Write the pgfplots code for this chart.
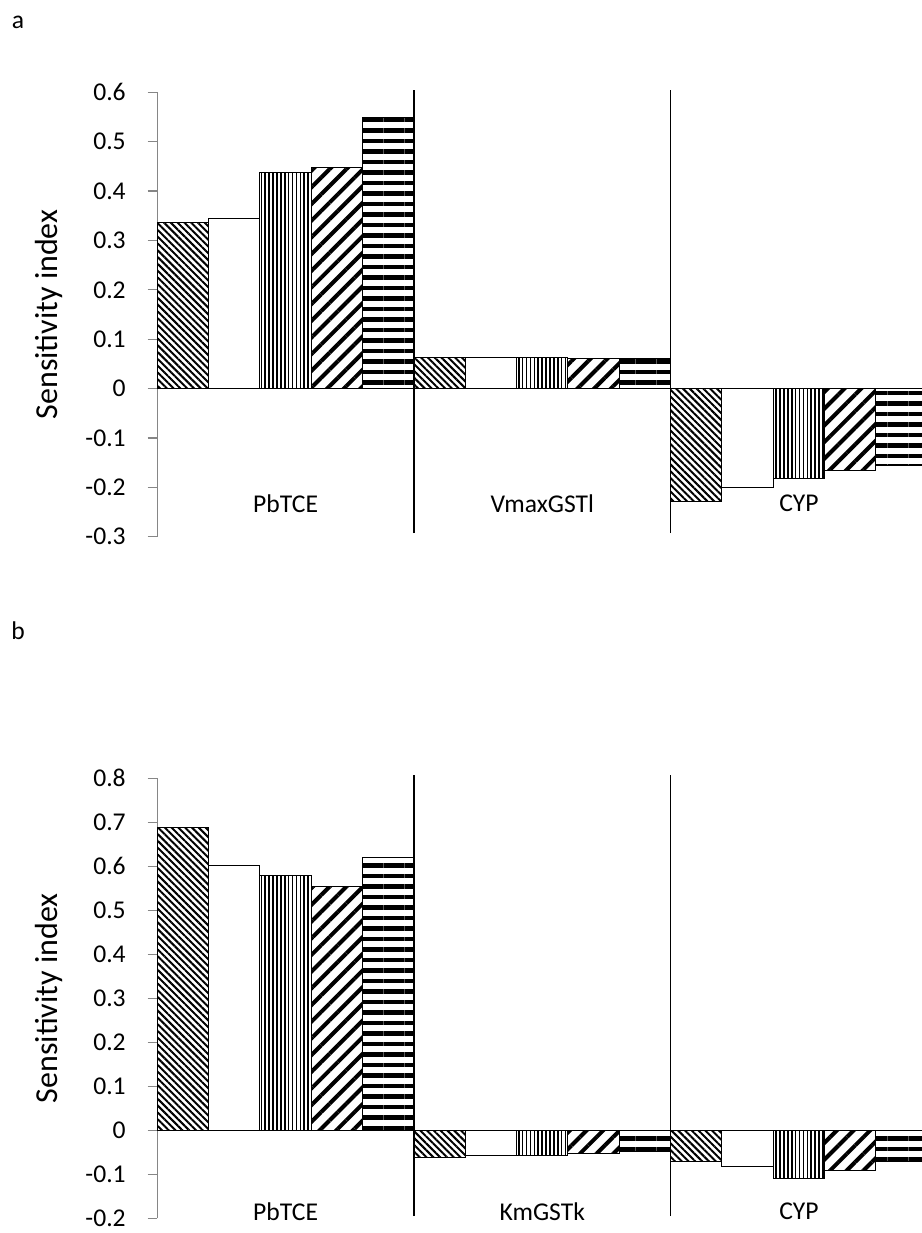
\documentclass[border=0pt]{standalone}
\usepackage{pgfplots}
\pgfplotsset{compat=1.18}
\usepackage{fontspec}
\setmainfont{Carlito}
\usetikzlibrary{patterns.meta}
\definecolor{axgray}{RGB}{134,134,134}
\tikzset{
  pA/.style={pattern={Lines[angle=-45,distance=2.4pt,line width=1pt]},pattern color=black},
  pB/.style={fill=white},
  pC/.style={pattern={Lines[angle=90,distance=1.95pt,line width=0.8pt]},pattern color=black},
  pD/.style={pattern={Lines[angle=45,distance=5.9pt,line width=2pt]},pattern color=black},
  pE/.style={pattern={Lines[angle=0,distance=5.25pt,line width=2.2pt]},pattern color=black},
}
\pgfplotsset{
  myaxis/.style={
    scale only axis,
    width=385pt,
    xmin=0, xmax=15,
    axis x line=middle,
    axis y line=left,
    axis line style={-, draw=axgray, line width=0.6pt},
    xtick=\empty,
    tick align=outside,
    major tick length=4.8pt,
    ytick style={draw=axgray, line width=0.6pt},
    yticklabel style={font=\fontsize{12.8}{15}\selectfont, anchor=east, inner sep=0pt, xshift=-10.8pt},
    ylabel={Sensitivity index},
    every axis y label/.style={at={(axis description cs:0,0.5)}, xshift=-54pt, rotate=90, anchor=center,
      font=\fontsize{16}{19}\selectfont},
    clip=false,
    every axis plot/.append style={ybar, bar width=1, bar shift=0pt, draw=black, line width=0.5pt},
  }
}
\begin{document}
\begin{tikzpicture}
% ---------------- panel a ----------------
\begin{axis}[myaxis,
  at={(78.65pt,348.15pt)}, anchor=south west,
  height=222.2pt,
  ymin=-0.3, ymax=0.6,
  ytick={-0.3,-0.2,-0.1,0,0.1,0.2,0.3,0.4,0.5,0.6},
  yticklabels={-0.3,-0.2,-0.1,0,0.1,0.2,0.3,0.4,0.5,0.6},
]
\addplot[pA] coordinates {(0.5,0.337) (5.5,0.062) (10.5,-0.229)};
\addplot[pB] coordinates {(1.5,0.344) (6.5,0.062) (11.5,-0.200)};
\addplot[pC] coordinates {(2.5,0.4375) (7.5,0.062) (12.5,-0.183)};
\addplot[pD] coordinates {(3.5,0.448) (8.5,0.061) (13.5,-0.165)};
\addplot[pE] coordinates {(4.5,0.548) (9.5,0.061) (14.5,-0.156)};
\draw[black, line width=0.75pt] (axis cs:5,-0.293) -- (axis cs:5,0.605);
\draw[black, line width=0.75pt] (axis cs:10,-0.293) -- (axis cs:10,0.605);
\node[font=\fontsize{12.8}{15}\selectfont] at (axis cs:2.5,-0.233) {PbTCE};
\node[font=\fontsize{12.8}{15}\selectfont] at (axis cs:7.5,-0.233) {VmaxGSTl};
\node[font=\fontsize{12.8}{15}\selectfont] at (axis cs:12.5,-0.233) {CYP};
\end{axis}
% ---------------- panel b ----------------
\begin{axis}[myaxis,
  at={(78.65pt,7.35pt)}, anchor=south west,
  height=220pt,
  ymin=-0.2, ymax=0.8,
  ytick={-0.2,-0.1,0,0.1,0.2,0.3,0.4,0.5,0.6,0.7,0.8},
  yticklabels={-0.2,-0.1,0,0.1,0.2,0.3,0.4,0.5,0.6,0.7,0.8},
]
\addplot[pA] coordinates {(0.5,0.688) (5.5,-0.061) (10.5,-0.070)};
\addplot[pB] coordinates {(1.5,0.6025) (6.5,-0.058) (11.5,-0.082)};
\addplot[pC] coordinates {(2.5,0.580) (7.5,-0.058) (12.5,-0.109)};
\addplot[pD] coordinates {(3.5,0.553) (8.5,-0.052) (13.5,-0.091)};
\addplot[pE] coordinates {(4.5,0.621) (9.5,-0.048) (14.5,-0.071)};
\draw[black, line width=0.75pt] (axis cs:5,-0.195) -- (axis cs:5,0.808);
\draw[black, line width=0.75pt] (axis cs:10,-0.195) -- (axis cs:10,0.808);
\node[font=\fontsize{12.8}{15}\selectfont] at (axis cs:2.5,-0.184) {PbTCE};
\node[font=\fontsize{12.8}{15}\selectfont] at (axis cs:7.5,-0.184) {KmGSTk};
\node[font=\fontsize{12.8}{15}\selectfont] at (axis cs:12.5,-0.184) {CYP};
\end{axis}
\node[font=\fontsize{12.8}{15}\selectfont] at (9pt,605.5pt) {a};
\node[font=\fontsize{12.8}{15}\selectfont] at (9pt,301pt) {b};
\pgfresetboundingbox
\useasboundingbox (0,0) rectangle (461pt,616.5pt);
\end{tikzpicture}
\end{document}
